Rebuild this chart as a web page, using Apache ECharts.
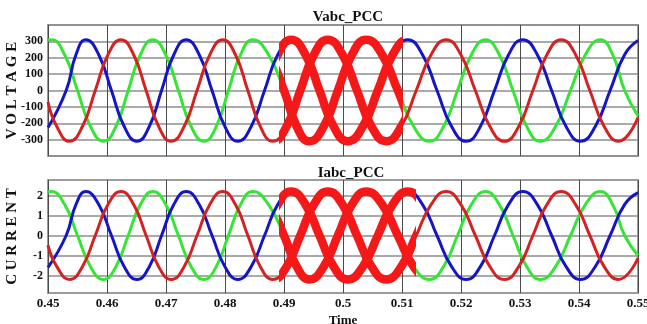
<!DOCTYPE html>
<html>
<head>
<meta charset="utf-8">
<script src="https://cdn.jsdelivr.net/npm/echarts@6/dist/echarts.min.js"></script>
<style>
  html, body { margin: 0; padding: 0; background: #ffffff; }
  #chart { width: 647px; height: 324px; }
</style>
</head>
<body>
<div id="chart"></div>
<script>
// Sample instants (s) of each phase: peaks, troughs, zero crossings and mid-slope points
const timeA = [0.45, 0.45059, 0.45280, 0.45500, 0.45721, 0.45941, 0.46150, 0.46359, 0.46568, 0.46776,
               0.46993, 0.47210, 0.47427, 0.47644, 0.47851, 0.48058, 0.48265, 0.48471, 0.48736, 0.49000,
               0.49216, 0.49432, 0.49673, 0.49913, 0.50153, 0.50393, 0.50662, 0.50930, 0.51198, 0.51466,
               0.51704, 0.51941, 0.52178, 0.52415, 0.52648, 0.52881, 0.53114, 0.53347, 0.53602, 0.53856,
               0.54110, 0.54364, 0.54569, 0.54774, 0.55];
const timeB = [0.45, 0.45308, 0.45475, 0.45641, 0.45858, 0.46075, 0.46292, 0.46508, 0.46717, 0.46925,
               0.47134, 0.47342, 0.47561, 0.47780, 0.47999, 0.48217, 0.48444, 0.48670, 0.48896, 0.49122,
               0.49362, 0.49602, 0.49842, 0.50081, 0.50336, 0.50590, 0.50844, 0.51098, 0.51346, 0.51593,
               0.51841, 0.52088, 0.52328, 0.52568, 0.52808, 0.53047, 0.53292, 0.53536, 0.53781, 0.54025,
               0.54276, 0.54527, 0.54775, 0.55];
const timeC = [0.45, 0.45150, 0.45364, 0.45583, 0.45801, 0.46019, 0.46237, 0.46450, 0.46663, 0.46876,
               0.47088, 0.47307, 0.47526, 0.47745, 0.47963, 0.48175, 0.48387, 0.48599, 0.48810, 0.49043,
               0.49276, 0.49509, 0.49742, 0.49990, 0.50237, 0.50485, 0.50732, 0.50987, 0.51241, 0.51495,
               0.51749, 0.51996, 0.52243, 0.52490, 0.52737, 0.52978, 0.53218, 0.53458, 0.53698, 0.53941,
               0.54184, 0.54427, 0.54669, 0.55];

// Phase voltages at the PCC (V)
const voltA = [307, 310, 220, 0, -220, -310, -220, 0, 220, 310,
               220, 0, -220, -310, -220, 0, 220, 310, 220, 0,
               -220, -310, -220, 0, 220, 310, 220, 0, -220, -310,
               -220, 0, 220, 310, 220, 0, -220, -310, -220, 0,
               220, 310, 220, 0, -155];
const voltB = [-226, 0, 220, 310, 220, 0, -220, -310, -220, 0,
               220, 310, 220, 0, -220, -310, -220, 0, 220, 310,
               220, 0, -220, -310, -220, 0, 220, 310, 220, 0,
               -220, -310, -220, 0, 220, 310, 220, 0, -220, -310,
               -220, 0, 220, 305];
const voltC = [-70, -220, -310, -220, 0, 220, 310, 220, 0, -220,
               -310, -220, 0, 220, 310, 220, 0, -220, -310, -220,
               0, 220, 310, 220, 0, -220, -310, -220, 0, 220,
               310, 220, 0, -220, -310, -220, 0, 220, 310, 220,
               0, -220, -310, -165];

// Phase currents at the PCC (A)
const currA = [2.18, 2.2, 1.56, 0, -1.56, -2.2, -1.56, 0, 1.56, 2.2,
               1.56, 0, -1.56, -2.2, -1.56, 0, 1.56, 2.2, 1.56, 0,
               -1.56, -2.2, -1.56, 0, 1.56, 2.2, 1.56, 0, -1.56, -2.2,
               -1.56, 0, 1.56, 2.2, 1.56, 0, -1.56, -2.2, -1.56, 0,
               1.56, 2.2, 1.56, 0, -1.0];
const currB = [-1.6, 0, 1.56, 2.2, 1.56, 0, -1.56, -2.2, -1.56, 0,
               1.56, 2.2, 1.56, 0, -1.56, -2.2, -1.56, 0, 1.56, 2.2,
               1.56, 0, -1.56, -2.2, -1.56, 0, 1.56, 2.2, 1.56, 0,
               -1.56, -2.2, -1.56, 0, 1.56, 2.2, 1.56, 0, -1.56, -2.2,
               -1.56, 0, 1.56, 2.15];
const currC = [-0.48, -1.56, -2.2, -1.56, 0, 1.56, 2.2, 1.56, 0, -1.56,
               -2.2, -1.56, 0, 1.56, 2.2, 1.56, 0, -1.56, -2.2, -1.56,
               0, 1.56, 2.2, 1.56, 0, -1.56, -2.2, -1.56, 0, 1.56,
               2.2, 1.56, 0, -1.56, -2.2, -1.56, 0, 1.56, 2.2, 1.56,
               0, -1.56, -2.2, -1.13];

// Axis ranges and labelled ticks
const timeRange = [0.45, 0.55];
const voltageRange = [-400, 400];
const currentRange = [-2.88, 2.78];
const voltageTicks = [-300, -200, -100, 0, 100, 200, 300];
const currentTicks = [-2, -1, 0, 1, 2];

// Interval drawn as a heavy red trace
const voltageWindow = [0.49, 0.5094];
const currentWindow = [0.4899, 0.5115];

const PHASE_COLORS = ['#35e535', '#1515c8', '#d42222'];
const HEAVY_RED = '#f41818';
const FONT = 'Liberation Serif';

const PLOT_LEFT = 48;
const PLOT_WIDTH = 590;
const TOP_PANEL = { top: 25, height: 131 };
const BOTTOM_PANEL = { top: 180, height: 113 };

function pairs(times, values) {
  return times.map((t, i) => [t, values[i]]);
}

function windowGrid(panel, win) {
  const span = timeRange[1] - timeRange[0];
  return {
    left: PLOT_LEFT + (win[0] - timeRange[0]) / span * PLOT_WIDTH,
    width: (win[1] - win[0]) / span * PLOT_WIDTH,
    top: panel.top,
    height: panel.height,
    show: false,
    containLabel: false,
    outerBoundsMode: 'none'
  };
}

const labelStyle = { fontFamily: FONT, fontWeight: 'bold', fontSize: 12, color: '#111' };

const chart = echarts.init(document.getElementById('chart'), null, { renderer: 'canvas' });

const timeAxisBase = {
  type: 'value',
  min: timeRange[0],
  max: timeRange[1],
  interval: 0.01,
  axisLine: { show: false },
  axisTick: { show: false },
  splitLine: { show: true, lineStyle: { color: '#4a4a4a', width: 1 } }
};

const hiddenAxis = {
  type: 'value',
  show: false,
  axisLine: { show: false },
  axisTick: { show: false },
  axisLabel: { show: false },
  splitLine: { show: false }
};

const voltSets = [voltA, voltB, voltC];
const currSets = [currA, currB, currC];
const timeSets = [timeA, timeB, timeC];
const series = [];

[0, 1].forEach(panel => {
  const sets = panel === 0 ? voltSets : currSets;
  sets.forEach((vals, k) => {
    series.push({
      type: 'line',
      xAxisIndex: panel,
      yAxisIndex: panel,
      data: pairs(timeSets[k], vals),
      smooth: true,
      showSymbol: false,
      lineStyle: { color: PHASE_COLORS[k], width: 3 },
      itemStyle: { color: PHASE_COLORS[k] },
      z: 2 + k
    });
  });
  sets.forEach((vals, k) => {
    series.push({
      type: 'line',
      xAxisIndex: panel + 2,
      yAxisIndex: panel + 2,
      data: pairs(timeSets[k], vals),
      smooth: true,
      showSymbol: false,
      lineStyle: { color: HEAVY_RED, width: 8.5 },
      itemStyle: { color: HEAVY_RED },
      z: 10
    });
  });
});

const panelGrid = panel => ({
  left: PLOT_LEFT, width: PLOT_WIDTH, top: panel.top, height: panel.height,
  show: true, backgroundColor: '#ffffff', borderColor: '#9c9c9c', borderWidth: 2,
  containLabel: false, outerBoundsMode: 'none'
});

const axisNameStyle = { fontFamily: FONT, fontWeight: 'bold', fontSize: 15, color: '#111' };

chart.setOption({
  animation: false,
  backgroundColor: '#ffffff',
  title: [
    {
      text: 'Vabc_PCC', left: 343, top: 5, textAlign: 'center',
      textStyle: { fontFamily: FONT, fontWeight: 'bold', fontSize: 15, color: '#111' }
    },
    {
      text: 'Iabc_PCC', left: 346, top: 161, textAlign: 'center',
      textStyle: { fontFamily: FONT, fontWeight: 'bold', fontSize: 15, color: '#111' }
    }
  ],
  grid: [
    panelGrid(TOP_PANEL),
    panelGrid(BOTTOM_PANEL),
    windowGrid(TOP_PANEL, voltageWindow),
    windowGrid(BOTTOM_PANEL, currentWindow)
  ],
  xAxis: [
    Object.assign({}, timeAxisBase, { gridIndex: 0, axisLabel: { show: false } }),
    Object.assign({}, timeAxisBase, {
      gridIndex: 1,
      name: 'Time',
      nameLocation: 'middle',
      nameGap: 21,
      nameMoveOverlap: false,
      nameTextStyle: { fontFamily: FONT, fontWeight: 'bold', fontSize: 13, color: '#111' },
      axisLabel: Object.assign({ margin: 4 }, labelStyle, { fontSize: 13 })
    }),
    Object.assign({}, hiddenAxis, { gridIndex: 2, min: voltageWindow[0], max: voltageWindow[1] }),
    Object.assign({}, hiddenAxis, { gridIndex: 3, min: currentWindow[0], max: currentWindow[1] })
  ],
  yAxis: [
    {
      type: 'value', gridIndex: 0,
      min: voltageRange[0], max: voltageRange[1], interval: 100,
      name: 'V O L T A G E',
      nameLocation: 'middle', nameRotate: 90, nameGap: 28, nameMoveOverlap: false,
      nameTextStyle: axisNameStyle,
      axisLine: { show: false }, axisTick: { show: false },
      axisLabel: Object.assign({
        margin: 5,
        formatter: v => (voltageTicks.indexOf(v) >= 0 ? String(v) : '')
      }, labelStyle),
      splitLine: { show: true, lineStyle: { color: '#8e8e8e', width: 1.5 } }
    },
    {
      type: 'value', gridIndex: 1,
      min: currentRange[0], max: currentRange[1],
      name: 'C U R R E N T',
      nameLocation: 'middle', nameRotate: 90, nameGap: 28, nameMoveOverlap: false,
      nameTextStyle: axisNameStyle,
      axisLine: { show: false },
      axisTick: { show: false, customValues: currentTicks },
      axisLabel: Object.assign({ margin: 5, customValues: currentTicks }, labelStyle),
      splitLine: { show: true, lineStyle: { color: '#8e8e8e', width: 1.5 } }
    },
    Object.assign({}, hiddenAxis, { gridIndex: 2, min: voltageRange[0], max: voltageRange[1] }),
    Object.assign({}, hiddenAxis, { gridIndex: 3, min: currentRange[0], max: currentRange[1] })
  ],
  series: series
});
</script>
</body>
</html>
